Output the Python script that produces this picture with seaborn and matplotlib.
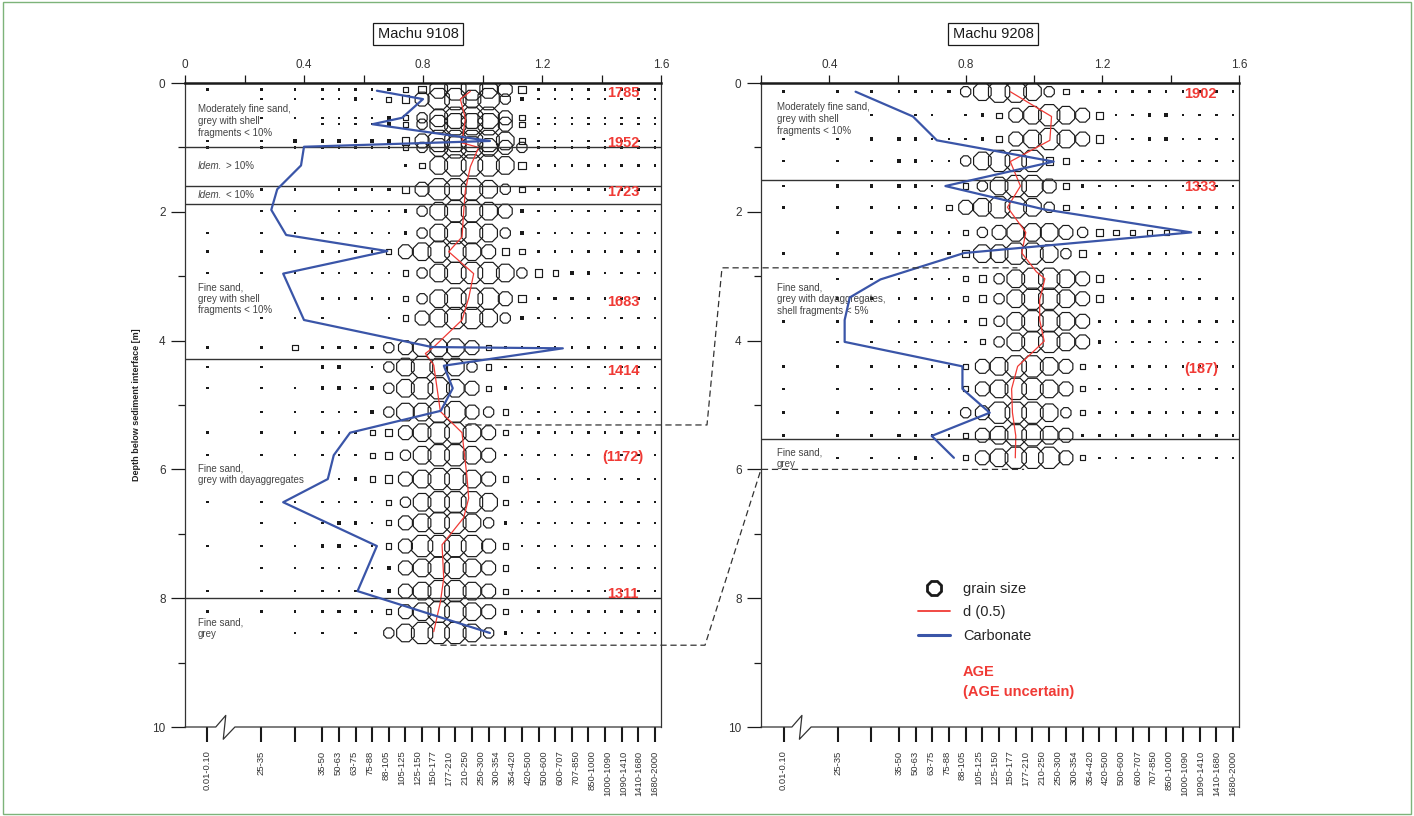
import numpy as np
import pandas as pd
import seaborn as sns
import matplotlib.pyplot as plt
import matplotlib.transforms as mtransforms
from matplotlib.lines import Line2D
from matplotlib.patches import Rectangle

# ---- grain size classes (bottom axis) ----
GRAIN_CLASSES = ["0.01-0.10", "25-35", "35-50", "50-63", "63-75", "75-88", "88-105",
                 "105-125", "125-150", "150-177", "177-210", "210-250", "250-300",
                 "300-354", "354-420", "420-500", "500-600", "600-707", "707-850",
                 "850-1000", "1000-1090", "1090-1410", "1410-1680", "1680-2000"]

# ---- Machu 9108 ----
DEPTH_9108 = [0.10, 0.25, 0.54, 0.64, 0.90, 1.00, 1.28, 1.65, 1.99, 2.33, 2.62, 2.95, 3.35, 3.65,
              4.11, 4.41, 4.74, 5.11, 5.43, 5.78, 6.15, 6.51, 6.83, 7.19, 7.53, 7.89, 8.21, 8.54]
# grain size fraction per class, read as size class 0 (none) .. 8 (largest bubble)
GS_9108 = ["111212123478876411111111", "011112134688785211111111", "011111123578886311111111",
           "000111123578886311111111", "112222224688887311111111", "111111113578876521111111",
           "000000002378887411111111", "011011124688875311111111", "011011112578876211111111",
           "111111112578875211111111", "111111136788764311111111", "111111113578887543221111",
           "000111113578886422221111", "011100013678875211111111", "123222256777631111111111",
           "110220157877531111111111", "111221257887632111111111", "011111257788653111111111",
           "111111346788763111111111", "111111345788761111111111", "000012346788763111111111",
           "111111135788873111111111", "011122136788752111111111", "111221136888863111111111",
           "011111126788763011111111", "111111126788763111111111", "111221136788763111111111",
           "001101057888752111111111"]
CARB_9108 = [0.645, 0.80, 0.73, 0.63, 1.025, 0.40, 0.39, 0.31, 0.29, 0.34, 0.68, 0.33, 0.40,
             0.83, 1.27, 0.87, 0.90, 0.86, 0.555, 0.50, 0.48, 0.33, 0.645, 0.58, 1.025]
CARB_D_9108 = [0.12, 0.25, 0.54, 0.64, 0.90, 0.99, 1.28, 1.65, 1.97, 2.36, 2.61, 2.96, 3.68,
               4.10, 4.12, 4.39, 4.74, 5.09, 5.43, 5.78, 6.15, 6.51, 7.19, 7.89, 8.54]
D50_9108 = [8.9, 8.3, 8.6, 8.4, 9.4, 8.9, 8.6, 8.5, 8.4, 7.6, 9.1, 8.8, 8.4, 6.7, 6.2, 6.7,
            7.1, 8.4, 8.7, 8.8, 8.5, 7.2, 7.3, 7.1, 6.7]
D50_D_9108 = [0.13, 0.25, 0.55, 0.93, 1.0, 1.3, 1.67, 2.0, 2.39, 2.62, 2.96, 3.34, 3.68, 4.1,
              4.2, 4.38, 5.1, 5.43, 6.12, 6.45, 6.75, 7.17, 7.69, 8.06, 8.52]
LAYERS_9108 = [0.99, 1.60, 1.88, 4.29, 7.99]
AGES_9108 = ["1785", "1952", "1723", "1683", "1414", "(1172)", "1311"]
AGE_D_9108 = [0.16, 0.93, 1.70, 3.40, 4.47, 5.80, 7.93]
FACIES_9108 = ["Moderately fine sand,\ngrey with shell\nfragments < 10%",
               "Fine sand,\ngrey with shell\nfragments < 10%",
               "Fine sand,\ngrey with dayaggregates", "Fine sand,\ngrey"]
FACIES_D_9108 = [0.59, 3.35, 6.08, 8.46]
IDEM_9108 = ["> 10%", "< 10%"]
IDEM_D_9108 = [1.29, 1.74]

# ---- Machu 9208 ----
DEPTH_9208 = [0.135, 0.50, 0.87, 1.21, 1.60, 1.93, 2.32, 2.65, 3.04, 3.35, 3.70, 4.02, 4.40,
              4.75, 5.12, 5.47, 5.82]
GS_9208 = ["111111257887531111111111", "001011012367876411221111", "112221112367876411221111",
           "111221157888431111111111", "122221135788632111111111", "111111367887532111111111",
           "022221135677765433332111", "111111247788754211111111", "011111134578876411111100",
           "011111134578876411111111", "111111114578876111111111", "011111113578876211111111",
           "111111136788763111111111", "111111136788763111111111", "111111156888753111111111",
           "122221136788762211111111", "011121036788863111111111"]
CARB_9208 = [0.477, 0.645, 0.715, 1.057, 0.74, 1.027, 1.46, 0.795, 0.55, 0.46, 0.445, 0.445,
             0.79, 0.79, 0.87, 0.70, 0.765]
CARB_D_9208 = [0.135, 0.52, 0.89, 1.22, 1.60, 1.96, 2.32, 2.64, 3.05, 3.33, 3.68, 4.02, 4.40,
               4.75, 5.12, 5.48, 5.82]
D50_9208 = [6.67, 9.14, 9.04, 6.67, 7.28, 6.5, 7.6, 7.36, 8.23, 8.74, 8.43, 8.43, 8.7, 7.11,
            6.75, 6.8, 7.0, 6.97]
D50_D_9208 = [0.135, 0.52, 0.89, 1.22, 1.60, 1.93, 2.32, 2.64, 2.93, 3.04, 3.37, 3.68, 4.01,
              4.40, 4.75, 5.12, 5.48, 5.82]
LAYERS_9208 = [1.50, 5.53]
AGES_9208 = ["1902", "1333", "(187)"]
AGE_D_9208 = [0.17, 1.62, 4.44]
FACIES_9208 = ["Moderately fine sand,\ngrey with shell\nfragments < 10%",
               "Fine sand,\ngrey with dayaggregates,\nshell fragments < 5%", "Fine sand,\ngrey"]
FACIES_D_9208 = [0.56, 3.36, 5.82]

# correlation between the cores: depth in 9108 -> depth in 9208
CORR_9108 = [5.31, 8.73]
CORR_9208 = [2.87, 6.00]

# ---- style / layout ----
INK = "#1a1a1a"
RED = "#f03a35"
BLUE = "#3a55a8"
TXT = "#444444"
COL_POS = [-6.9, -3.66, -1.64] + list(range(21))
LABEL_POS = COL_POS[:2] + list(np.linspace(0, 20, 22))
XLIM = (-8.25, 20.36)
MARKER_AREA = {1: 3.2, 2: 6.4, 3: 14, 4: 27, 5: 63, 6: 117, 7: 187, 8: 274}

sns.set_theme(style="ticks")
plt.rcParams['font.family'] = ['Liberation Sans', 'DejaVu Sans']

fig = plt.figure(figsize=(14.14, 8.16), dpi=100)


def draw_panel(rect, depth, rows, carb, carb_d, d50, d50_d, layers, ages, age_d,
               facies, facies_d, carb_lim, top_major, top_labels, top_minor, fx):
    ax = fig.add_axes(rect)
    recs = [(COL_POS[c], d, int(k)) for d, row in zip(depth, rows)
            for c, k in enumerate(row) if k != "0"]
    df = pd.DataFrame(recs, columns=["slot", "depth", "cls"])

    sns.scatterplot(data=df[df["cls"] <= 2], x="slot", y="depth", size="cls",
                    sizes=MARKER_AREA, marker="s", color=INK, edgecolor="none",
                    linewidth=0, legend=False, ax=ax)
    sns.scatterplot(data=df[df["cls"].between(3, 4)], x="slot", y="depth", size="cls",
                    sizes=MARKER_AREA, marker="s", facecolor="none", edgecolor=INK,
                    linewidth=0.85, legend=False, ax=ax)
    sns.scatterplot(data=df[df["cls"] >= 5], x="slot", y="depth", size="cls",
                    sizes=MARKER_AREA, marker="8", facecolor="none", edgecolor=INK,
                    linewidth=0.85, legend=False, ax=ax)
    sns.lineplot(x=d50, y=d50_d, sort=False, estimator=None, color=RED, linewidth=0.9, ax=ax)

    for d in layers:
        ax.axhline(d, color="#333333", lw=1.0)

    blend = mtransforms.blended_transform_factory(ax.transAxes, ax.transData)
    for a, d in zip(ages, age_d):
        ax.text(0.92, d, a, transform=blend, ha="center", va="center", color=RED,
                fontsize=10.5, fontweight="bold")
    for t, d in zip(facies, facies_d):
        ax.text(fx, d, t, transform=blend, ha="left", va="center", color=TXT,
                fontsize=7, linespacing=1.2)

    ax.set_xlim(XLIM)
    ax.set_ylim(10, 0)
    ax.set_xlabel("")
    ax.set_ylabel("")

    # grain size axis at the bottom
    ax.xaxis.remove_overlapping_locs = False
    ax.set_xticks(COL_POS)
    ax.set_xticklabels([])
    ax.set_xticks(LABEL_POS, minor=True)
    ax.set_xticklabels(GRAIN_CLASSES, minor=True, rotation=90, fontsize=6.8, color="#333333")
    ax.tick_params(axis="x", which="major", bottom=True, length=11, width=1.5,
                   color=INK, direction="out")
    ax.tick_params(axis="x", which="minor", bottom=True, length=0, pad=17)

    ax.set_yticks(range(0, 11, 2))
    ax.set_yticks(range(1, 10, 2), minor=True)
    ax.tick_params(axis="y", which="major", left=True, length=10, width=0.9, color=INK,
                   labelsize=8.5, pad=4, labelcolor="#333333")
    ax.tick_params(axis="y", which="minor", left=True, length=5, width=0.9, color=INK)

    ax.spines["top"].set_linewidth(1.8)
    ax.spines["top"].set_color(INK)
    for s in ["left", "right"]:
        ax.spines[s].set_linewidth(0.9)
        ax.spines[s].set_color("#333333")
    ax.spines["bottom"].set_visible(False)

    # bottom line with axis break
    bt = mtransforms.blended_transform_factory(ax.transData, ax.transAxes)
    ax.plot([XLIM[0], -6.4, -5.8, -5.95, -5.25, XLIM[1]], [0, 0, 0.018, -0.019, 0, 0],
            transform=bt, color="#333333", lw=0.9, clip_on=False)

    # carbonate axis on top
    axc = ax.twiny()
    sns.lineplot(x=carb, y=carb_d, sort=False, estimator=None, color=BLUE, linewidth=1.6,
                 ax=axc)
    axc.set_xlim(carb_lim)
    axc.set_ylim(10, 0)
    axc.set_xticks(top_major)
    axc.set_xticklabels(top_labels)
    axc.set_xticks(top_minor, minor=True)
    axc.tick_params(axis="x", which="both", top=True, bottom=False, labeltop=True,
                    labelbottom=False, direction="out", length=6, width=0.9, color=INK,
                    labelsize=8.5, pad=3, labelcolor="#333333")
    axc.set_xlabel("")
    axc.set_ylabel("")
    for s in axc.spines.values():
        s.set_visible(False)
    return ax, axc


LEFT_RECT = [185 / 1414, 89 / 816, 476 / 1414, 644 / 816]
RIGHT_RECT = [761 / 1414, 89 / 816, 478 / 1414, 644 / 816]

axL, axLc = draw_panel(LEFT_RECT, DEPTH_9108, GS_9108, CARB_9108, CARB_D_9108, D50_9108,
                       D50_D_9108, LAYERS_9108, AGES_9108, AGE_D_9108, FACIES_9108,
                       FACIES_D_9108, (0, 1.6), [0, 0.4, 0.8, 1.2, 1.6],
                       ["0", "0.4", "0.8", "1.2", "1.6"], [0.2, 0.6, 1.0, 1.4], 0.027)
axR, axRc = draw_panel(RIGHT_RECT, DEPTH_9208, GS_9208, CARB_9208, CARB_D_9208, D50_9208,
                       D50_D_9208, LAYERS_9208, AGES_9208, AGE_D_9208, FACIES_9208,
                       FACIES_D_9208, (0.2, 1.6), [0.4, 0.8, 1.2, 1.6],
                       ["0.4", "0.8", "1.2", "1.6"], [0.2, 0.6, 1.0, 1.4], 0.033)

# "Idem." sub-units in 9108
blendL = mtransforms.blended_transform_factory(axL.transAxes, axL.transData)
for t, d in zip(IDEM_9108, IDEM_D_9108):
    axL.text(0.027, d, "Idem.", transform=blendL, va="center", color=TXT, fontsize=7,
             style="italic")
    axL.annotate(t, xy=(0.027, d), xycoords=blendL, xytext=(20, 0),
                 textcoords="offset points", va="center", color=TXT, fontsize=7)

axL.set_ylabel("Depth below sediment interface [m]", fontsize=6.5, fontweight="bold",
               color="#222222")
axL.yaxis.set_label_coords(-0.093, 0.5)

# titles
for x, t in [(0.2956, "Machu 9108"), (0.7023, "Machu 9208")]:
    fig.text(x, 0.9583, t, ha="center", va="center", fontsize=10.5, color=INK,
             bbox=dict(boxstyle="square,pad=0.3", fc="white", ec=INK, lw=0.9))

# legend
handles = [Line2D([], [], marker="8", ls="none", mfc="none", mec=INK, mew=2, ms=11),
           Line2D([], [], color=RED, lw=1.3),
           Line2D([], [], color=BLUE, lw=2.2)]
axR.legend(handles, ["grain size", "d (0.5)", "Carbonate"], loc="upper left",
           bbox_to_anchor=(0.6492, 0.2868), bbox_transform=fig.transFigure, frameon=False,
           fontsize=10.5, handlelength=2.2, handletextpad=0.9, labelspacing=0.65,
           borderpad=0, borderaxespad=0)
fig.text(963 / 1414, 1 - 672 / 816, "AGE", color=RED, fontsize=10.5, fontweight="bold",
         va="center")
fig.text(963 / 1414, 1 - 692 / 816, "(AGE uncertain)", color=RED, fontsize=10.5,
         fontweight="bold", va="center")


# correlation dashed lines between cores
def fig_xy(axis, x, y):
    return fig.transFigure.inverted().transform(axis.transData.transform((x, y)))


starts = [8.6, 7.1]
ends = [7.1, 7.5]
kinks = [(707 / 1414, 722 / 1414), (705 / 1414, RIGHT_RECT[0])]
for dl, dr, s0, s1, (k0, k1) in zip(CORR_9108, CORR_9208, starts, ends, kinks):
    p1 = fig_xy(axL, s0, dl)
    p4 = fig_xy(axR, s1, dr)
    fig.add_artist(Line2D([p1[0], k0, k1, p4[0]], [p1[1], p1[1], p4[1], p4[1]],
                          transform=fig.transFigure, color="#333333", lw=0.9,
                          ls=(0, (5, 3))))

# outer frame
fig.add_artist(Rectangle((0.002, 0.003), 0.996, 0.994, transform=fig.transFigure,
                         fill=False, ec="#7db37a", lw=1.0))

fig.savefig("out.png", dpi=100)
